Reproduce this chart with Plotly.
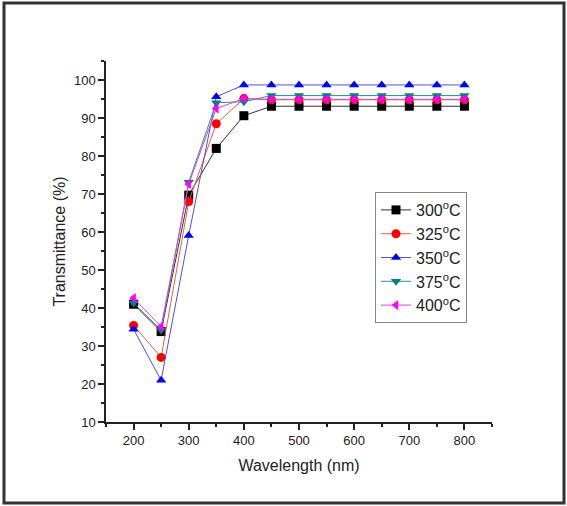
import plotly.graph_objects as go

wavelength = [200, 250, 300, 350, 400, 450, 500, 550, 600, 650, 700, 750, 800]
t300 = [41.0, 33.8, 69.7, 82.0, 90.6, 93.1, 93.1, 93.1, 93.1, 93.1, 93.1, 93.1, 93.1]
t325 = [35.4, 27.0, 68.0, 88.5, 95.1, 94.8, 94.8, 94.8, 94.8, 94.8, 94.8, 94.8, 94.8]
t350 = [34.4, 21.0, 59.1, 95.6, 98.7, 98.7, 98.7, 98.7, 98.7, 98.7, 98.7, 98.7, 98.7]
t375 = [41.3, 34.2, 73.1, 94.0, 94.3, 95.9, 95.9, 95.9, 95.9, 95.9, 95.9, 95.9, 95.9]
t400 = [42.6, 35.1, 72.6, 92.5, 95.1, 94.9, 94.9, 94.9, 94.9, 94.9, 94.9, 94.9, 94.9]

series = [
    ("300<sup>o</sup>C", t300, "#000000", "#333333", "square"),
    ("325<sup>o</sup>C", t325, "#ff0000", "#e8603a", "circle"),
    ("350<sup>o</sup>C", t350, "#0000ff", "#5050d8", "triangle-up"),
    ("375<sup>o</sup>C", t375, "#008080", "#2a9090", "triangle-down"),
    ("400<sup>o</sup>C", t400, "#ff00ff", "#e040e0", "triangle-left"),
]

fig = go.Figure()
for name, ys, mc, lc, sym in series:
    fig.add_trace(go.Scatter(
        x=wavelength, y=ys, name=name, mode="lines+markers",
        line=dict(color=lc, width=1),
        marker=dict(symbol=sym, size=9, color=mc, line=dict(width=0)),
    ))

W, H = 567, 506
L, R, T, B = 106, 75, 61, 84
pw, ph = W - L - R, H - T - B

def px(x):
    return (x - L) / pw

def py(y):
    return (H - B - y) / ph

fig.add_shape(type="rect", xref="paper", yref="paper",
              x0=px(4), x1=px(564), y0=py(503), y1=py(3),
              line=dict(color="#333333", width=3), fillcolor="rgba(0,0,0,0)")

axis_font = dict(family="Arial, Liberation Sans, sans-serif", size=13, color="#222222")
fig.update_layout(
    width=W, height=H,
    margin=dict(l=L, r=R, t=T, b=B),
    paper_bgcolor="white", plot_bgcolor="white",
    font=dict(family="Arial, Liberation Sans, sans-serif", color="#222222"),
    xaxis=dict(range=[150, 850], tickvals=[200, 300, 400, 500, 600, 700, 800],
               showgrid=False, zeroline=False, showline=True, linecolor="#222222", linewidth=1.5,
               ticks="outside", ticklen=6, tickwidth=1.5, tickcolor="#222222",
               minor=dict(tickvals=[150, 250, 350, 450, 550, 650, 750, 850], ticks="outside", ticklen=3, tickwidth=1.5, tickcolor="#222222"),
               tickfont=axis_font,
               title=dict(text="Wavelength (nm)", font=dict(size=16, color="#222222"), standoff=12)),
    yaxis=dict(range=[10, 105], tickvals=[10, 20, 30, 40, 50, 60, 70, 80, 90, 100],
               showgrid=False, zeroline=False, showline=True, linecolor="#222222", linewidth=1.5,
               ticks="outside", ticklen=6, tickwidth=1.5, tickcolor="#222222",
               minor=dict(tickvals=[15, 25, 35, 45, 55, 65, 75, 85, 95, 105], ticks="outside", ticklen=3, tickwidth=1.5, tickcolor="#222222"),
               tickfont=axis_font,
               title=dict(text="Transmittance (%)", font=dict(size=16, color="#222222"), standoff=4)),
    legend=dict(x=px(375), y=py(192), xanchor="left", yanchor="top",
                bordercolor="#888888", borderwidth=1, bgcolor="white",
                font=dict(size=16, color="#222222"), tracegroupgap=0, itemwidth=30),
    showlegend=True,
)

fig.write_html("out.html")
